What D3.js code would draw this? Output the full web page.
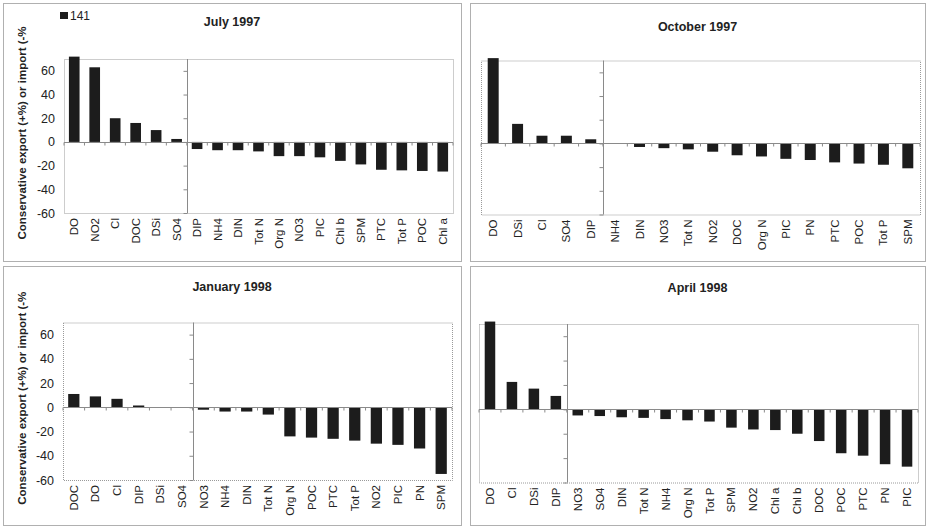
<!DOCTYPE html>
<html>
<head>
<meta charset="utf-8">
<script src="https://cdn.jsdelivr.net/npm/d3@7/dist/d3.min.js"></script>
<style>
  html, body { margin: 0; padding: 0; background: #fff; }
  svg { display: block; font-family: "Liberation Sans", Arial, sans-serif; }
</style>
</head>
<body>
<svg id="chart" width="927" height="528"></svg>
<script>
// Conservative export (+%) or import (-%) of constituents, four surveys
const panelTitles = ["July 1997", "October 1997", "January 1998", "April 1998"];

const julyCats = ["DO", "NO2", "Cl", "DOC", "DSi", "SO4", "DIP", "NH4", "DIN", "Tot N", "Org N", "NO3", "PIC", "Chl b", "SPM", "PTC", "Tot P", "POC", "Chl a"];
const julyVals = [72, 63, 20, 16, 10, 2.5, -6, -7, -7, -8, -12, -12, -13, -16, -19, -23.5, -24, -24.5, -25];

const octCats = ["DO", "DSi", "Cl", "SO4", "DIP", "NH4", "DIN", "NO3", "Tot N", "NO2", "DOC", "Org N", "PIC", "PN", "PTC", "POC", "Tot P", "SPM"];
const octVals = [72, 16.5, 6.5, 6.5, 3.5, 0, -3, -4, -5, -7, -10, -11, -13, -14, -16, -17, -18, -21];

const janCats = ["DOC", "DO", "Cl", "DIP", "DSi", "SO4", "NO3", "NH4", "DIN", "Tot N", "Org N", "POC", "PTC", "Tot P", "NO2", "PIC", "PN", "SPM"];
const janVals = [11, 9, 7, 1.5, 0, 0, -2, -3.5, -3.5, -6, -24, -25, -26, -27.5, -30, -31, -34, -55];

const aprCats = ["DO", "Cl", "DSi", "DIP", "NO3", "SO4", "DIN", "Tot N", "NH4", "Org N", "Tot P", "SPM", "NO2", "Chl a", "Chl b", "DOC", "POC", "PTC", "PN", "PIC"];
const aprVals = [72, 22.5, 17, 11, -5, -5.5, -6.5, -7, -8, -9, -10, -15, -16.5, -17, -20, -26, -36, -38, -45, -47];

// category index where the value axis crosses the category axis
const axisCross = [6, 5, 6, 4];

const yTicks = [-60, -40, -20, 0, 20, 40, 60];
const yDomain = [-60, 70];
const yTitle = "Conservative export (+%) or import (-%";
const seriesName = "141";

const panels = [
  { cats: julyCats, vals: julyVals },
  { cats: octCats, vals: octVals },
  { cats: janCats, vals: janVals },
  { cats: aprCats, vals: aprVals }
];

// frame, plot area and title placement for each panel
const layouts = [
  { box: [3, 3, 461, 261],   plot: [64, 453, 59, 213],     titleY: 26,  pad: 0.48, yLabels: true,  legend: true },
  { box: [470, 3, 925, 261], plot: [481, 920, 60.5, 214.5], titleY: 31,  pad: 0.55, yLabels: false, legend: false },
  { box: [3, 266, 461, 525], plot: [63, 452, 322.5, 480],   titleY: 291, pad: 0.48, yLabels: true,  legend: false },
  { box: [470, 266, 925, 525], plot: [479, 918, 324, 482.5], titleY: 292, pad: 0.52, yLabels: false, legend: false }
];

const svg = d3.select("#chart");
const barColor = "#1c1c1c";
const axisColor = "#8a8a8a";

panels.forEach((p, i) => {
  const L = layouts[i];
  const [bx0, by0, bx1, by1] = L.box;
  const [left, right, top, bottom] = L.plot;
  const g = svg.append("g");

  // panel frame
  g.append("rect")
    .attr("x", bx0 + 0.5).attr("y", by0 + 0.5)
    .attr("width", bx1 - bx0).attr("height", by1 - by0)
    .attr("fill", "none").attr("stroke", "#b0b0b0").attr("stroke-width", 1);

  const x = d3.scaleBand()
    .domain(p.cats)
    .range([left, right])
    .paddingInner(L.pad)
    .paddingOuter(L.pad / 2);

  const y = d3.scaleLinear().domain(yDomain).range([bottom, top]);

  // plot area outline
  g.append("rect")
    .attr("x", left + 0.5).attr("y", top + 0.5)
    .attr("width", right - left).attr("height", bottom - top)
    .attr("fill", "none").attr("stroke", "#9a9a9a")
    .attr("stroke-width", 1).attr("stroke-dasharray", "1,1");

  // bars
  g.selectAll("rect.bar")
    .data(p.cats.map((c, k) => ({ c, v: p.vals[k] })))
    .join("rect")
    .attr("class", "bar")
    .attr("x", d => x(d.c))
    .attr("width", x.bandwidth())
    .attr("y", d => Math.min(y(d.v), y(0)))
    .attr("height", d => Math.abs(y(d.v) - y(0)))
    .attr("fill", barColor);

  // category axis along zero, ticks between categories
  const step = x.step();
  const bounds = d3.range(p.cats.length + 1).map(k => left + k * step);
  const y0 = Math.round(y(0)) + 0.5;
  g.append("line")
    .attr("x1", left).attr("x2", right)
    .attr("y1", y0).attr("y2", y0)
    .attr("stroke", axisColor).attr("stroke-width", 1);
  g.selectAll("line.xtick")
    .data(bounds)
    .join("line")
    .attr("class", "xtick")
    .attr("x1", d => d).attr("x2", d => d)
    .attr("y1", y0).attr("y2", y0 + 3)
    .attr("stroke", axisColor).attr("stroke-width", 1);

  // value axis drawn where it crosses the categories
  const crossX = Math.round(left + axisCross[i] * step) + 0.5;
  const yAxis = d3.axisLeft(y).tickValues(yTicks).tickSize(4).tickFormat("");
  const ya = g.append("g").attr("transform", `translate(${crossX},0)`).call(yAxis);
  ya.select(".domain").remove();
  ya.selectAll(".tick line").attr("stroke", axisColor);
  g.append("line")
    .attr("x1", crossX).attr("x2", crossX)
    .attr("y1", top).attr("y2", bottom)
    .attr("stroke", axisColor).attr("stroke-width", 1);

  // value labels at the low side of the plot area
  if (L.yLabels) {
    g.selectAll("text.ylab")
      .data(yTicks)
      .join("text")
      .attr("class", "ylab")
      .attr("x", left - 9)
      .attr("y", d => y(d))
      .attr("dy", "0.36em")
      .attr("text-anchor", "end")
      .attr("font-size", 12.5)
      .attr("fill", "#222")
      .text(d => d);

    g.append("text")
      .attr("transform", `translate(26,${(top + bottom) / 2 - 3}) rotate(-90)`)
      .attr("text-anchor", "middle")
      .attr("font-size", 11.5)
      .attr("font-weight", "bold")
      .attr("fill", "#222")
      .text(yTitle);
  }

  // rotated category labels under the plot area
  g.selectAll("text.xlab")
    .data(p.cats)
    .join("text")
    .attr("class", "xlab")
    .attr("transform", d => `translate(${x(d) + x.bandwidth() / 2},${bottom + 5}) rotate(-90)`)
    .attr("text-anchor", "end")
    .attr("dy", "0.35em")
    .attr("font-size", 11.5)
    .attr("fill", "#222")
    .text(d => d);

  // panel title
  g.append("text")
    .attr("x", (bx0 + bx1) / 2)
    .attr("y", L.titleY)
    .attr("text-anchor", "middle")
    .attr("font-size", 12.5)
    .attr("font-weight", "bold")
    .attr("fill", "#222")
    .text(panelTitles[i]);

  if (L.legend) {
    g.append("rect")
      .attr("x", 60).attr("y", 12).attr("width", 8).attr("height", 7)
      .attr("fill", barColor);
    g.append("text")
      .attr("x", 70).attr("y", 19.5)
      .attr("font-size", 12)
      .attr("fill", "#222")
      .text(seriesName);
  }
});
</script>
</body>
</html>
